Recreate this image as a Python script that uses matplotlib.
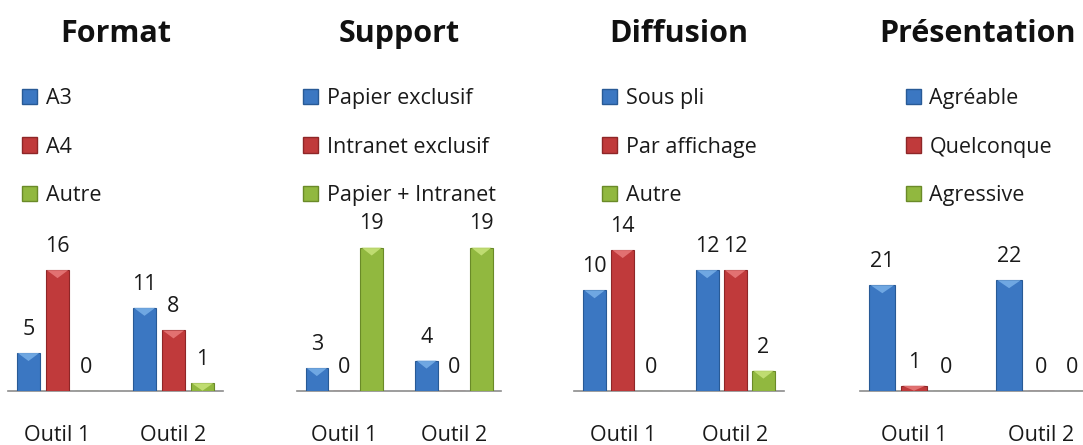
import matplotlib
matplotlib.use('Agg')
import matplotlib.pyplot as plt
from matplotlib.patches import Polygon, Patch

# ---------------- data ----------------
categories = ['Outil 1', 'Outil 2']
titles = ['Format', 'Support', 'Diffusion', 'Présentation']
format_series = ['A3', 'A4', 'Autre']
support_series = ['Papier exclusif', 'Intranet exclusif', 'Papier + Intranet']
diffusion_series = ['Sous pli', 'Par affichage', 'Autre']
presentation_series = ['Agréable', 'Quelconque', 'Agressive']
format_values = [[5, 11], [16, 8], [0, 1]]
support_values = [[3, 4], [0, 0], [19, 19]]
diffusion_values = [[10, 12], [14, 12], [0, 2]]
presentation_values = [[21, 22], [1, 0], [0, 0]]
y_max = [20, 20, 15, 30]

# ---------------- style ----------------
FONT = ['Open Sans', 'DejaVu Sans']
plt.rcParams['font.family'] = FONT
face = ['#3b77c2', '#c03a3b', '#91b83f']
edge = ['#285a96', '#8e2627', '#6a8a28']
light = ['#79b0e8', '#e97b7b', '#c8e37a']

W, H = 1083, 445
fig = plt.figure(figsize=(W / 100, H / 100), dpi=100)

# panel geometry in pixels
lefts = [7.6, 297.1, 574.3, 859.5]
widths = [215.8, 204.0, 209.4, 235.8]
base_y = 390.7
ax_h = 150.7
legend_x = [22.3, 303.3, 602.3, 905.7]

panels = [
    (titles[0], format_series, format_values, y_max[0]),
    (titles[1], support_series, support_values, y_max[1]),
    (titles[2], diffusion_series, diffusion_values, y_max[2]),
    (titles[3], presentation_series, presentation_values, y_max[3]),
]

step = 0.25
bw = 0.205
FS = 15.5
for p, (title, names, vals, ymax) in enumerate(panels):
    ax = fig.add_axes([lefts[p] / W, (H - base_y) / H, widths[p] / W, ax_h / H])
    ax.set_xlim(-0.43, 1.43)
    ax.set_ylim(0, ymax)
    dy = ymax * 8.0 / ax_h  # bevel depth (8 px) in data units
    handles = []
    for s, (name, v) in enumerate(zip(names, vals)):
        xs = [i + (s - 1) * step for i in range(len(categories))]
        bars = ax.bar(xs, v, width=bw, color=face[s], edgecolor=edge[s],
                      linewidth=0.8, zorder=3)
        for b, val in zip(bars, v):
            x0 = b.get_x()
            x1 = x0 + b.get_width()
            if val > 0:
                d = min(dy, val)
                ax.add_patch(Polygon([(x0 + 0.01, val), (x1 - 0.01, val),
                                      ((x0 + x1) / 2, val - d)],
                                     closed=True, facecolor=light[s],
                                     edgecolor='none', alpha=0.85, zorder=4))
            ax.annotate(str(val), (b.get_x() + b.get_width() / 2, val),
                        xytext=(0, 13), textcoords='offset points',
                        ha='center', va='baseline', fontsize=FS,
                        color='#1a1a1a', family=FONT)
        handles.append(Patch(facecolor=face[s], edgecolor=edge[s], label=name))
    for side in ['top', 'right', 'left']:
        ax.spines[side].set_visible(False)
    ax.spines['bottom'].set_color('#8c8c8c')
    ax.spines['bottom'].set_linewidth(1.2)
    ax.set_yticks([])
    ax.set_xticks(range(len(categories)))
    ax.set_xticklabels(categories, fontsize=FS, color='#1a1a1a')
    ax.tick_params(axis='x', length=0, pad=25)
    ax.patch.set_visible(False)

    cx = (lefts[p] + widths[p] / 2) / W
    fig.text(cx, 1 - 42.3 / H, title, ha='center', va='baseline',
             fontsize=22, fontweight='bold', color='#111111')

    fig.legend(handles=handles, loc='upper left',
               bbox_to_anchor=(legend_x[p] / W, 1 - 88 / H),
               frameon=False, fontsize=FS, borderpad=0, borderaxespad=0,
               handlelength=0.7, handleheight=0.7, handletextpad=0.4,
               labelspacing=1.28, labelcolor='#1a1a1a')

fig.savefig('out.png', dpi=100)
